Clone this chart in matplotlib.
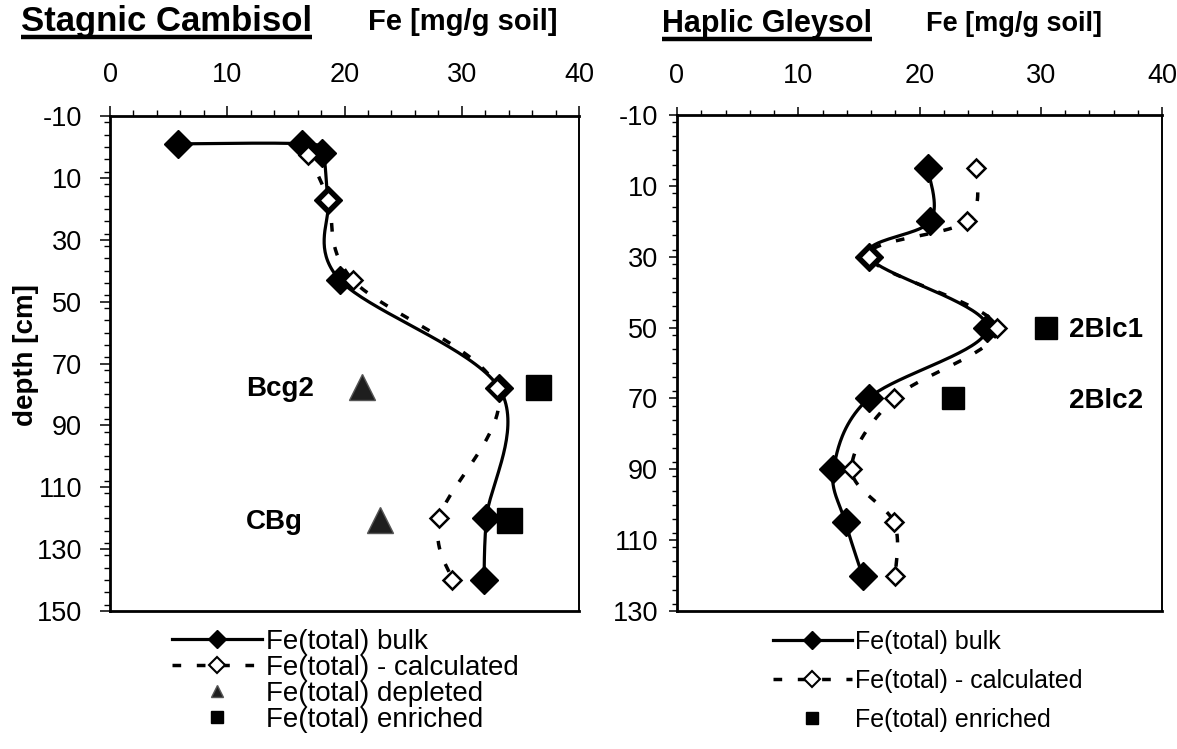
import numpy as np
import matplotlib
matplotlib.use('Agg')
import matplotlib.pyplot as plt
from matplotlib.lines import Line2D
from matplotlib.ticker import MultipleLocator

plt.rcParams['font.family'] = ['Liberation Sans', 'DejaVu Sans']
plt.rcParams['axes.unicode_minus'] = False

# ---------------- data ----------------
# Stagnic Cambisol
sc_bulk_depth = [-1, -1, 2, 17, 43, 78, 120, 140]
sc_bulk_fe = [5.8, 16.4, 18.1, 18.6, 19.6, 33.2, 32.1, 31.9]
sc_calc_depth = [2.5, 17, 43, 78, 120, 140]
sc_calc_fe = [16.9, 18.6, 20.7, 33.0, 28.1, 29.2]
sc_horizons = ['Bcg2', 'CBg']
sc_hor_depth = [77.5, 120.5]
sc_depleted_fe = [21.5, 23.0]
sc_enriched_fe = [36.5, 34.0]

# Haplic Gleysol
hg_depth = [5, 20, 30, 50, 70, 90, 105, 120]
hg_bulk_fe = [20.7, 20.9, 15.8, 25.6, 15.8, 12.9, 13.9, 15.3]
hg_calc_fe = [24.7, 23.9, 15.8, 26.4, 17.9, 14.4, 17.9, 18.0]
hg_horizons = ['2Blc1', '2Blc2']
hg_hor_depth = [50, 70]
hg_enriched_fe = [30.4, 22.8]

x_ticks = [0, 10, 20, 30, 40]
sc_y_ticks = list(range(-10, 151, 20))
hg_y_ticks = list(range(-10, 131, 20))

lbl_bulk = 'Fe(total) bulk'
lbl_calc = 'Fe(total) - calculated'
lbl_depl = 'Fe(total) depleted'
lbl_enr = 'Fe(total) enriched'

# ---------------- figure ----------------
W, H = 1177, 749
fig = plt.figure(figsize=(W / 100, H / 100), dpi=100)


def fx(px):
    return px / W


def fy(py):
    return 1 - py / H


def smooth(ax, x, y, n=40):
    """Excel-like smoothed line (Bezier through points) computed in display space."""
    pts = ax.transData.transform(np.column_stack([x, y]))
    P = np.vstack([pts[0], pts, pts[-1]])
    t = np.linspace(0, 1, n)[:, None]
    segs = []
    for i in range(1, len(P) - 2):
        p0, p1, p2, p3 = P[i - 1], P[i], P[i + 1], P[i + 2]
        c1 = p1 + (p2 - p0) / 6.0
        c2 = p2 - (p3 - p1) / 6.0
        segs.append((1 - t) ** 3 * p1 + 3 * (1 - t) ** 2 * t * c1
                    + 3 * (1 - t) * t ** 2 * c2 + t ** 3 * p2)
    c = ax.transData.inverted().transform(np.vstack(segs))
    return c[:, 0], c[:, 1]


def setup(ax, yticks, ylim, maj, mnr, xpad, ypad):
    ax.set_xlim(0, 40)
    ax.set_ylim(*ylim)
    ax.xaxis.tick_top()
    ax.set_xticks(x_ticks)
    ax.set_yticks(yticks)
    ax.xaxis.set_minor_locator(MultipleLocator(2))
    ax.yaxis.set_minor_locator(MultipleLocator(4))
    ax.tick_params(axis='both', which='major', direction='out', length=maj,
                   width=1.1, labelsize=19.5, color='black')
    ax.tick_params(axis='both', which='minor', direction='out', length=mnr,
                   width=1.0, color='black')
    ax.tick_params(axis='x', which='major', pad=xpad)
    ax.tick_params(axis='y', which='major', pad=ypad)
    for s in ['left', 'top', 'bottom']:
        ax.spines[s].set_linewidth(2.0)
    ax.spines['right'].set_linewidth(1.4)


DASH = (0, (2.5, 4.5))

# ---------- left panel ----------
ax1 = fig.add_axes([fx(110), fy(611), (579 - 110) / W, (611 - 116) / H])
setup(ax1, sc_y_ticks, (150, -10), 7.5, 4.0, 13, 12.5)

xs, ys = smooth(ax1, sc_calc_fe, sc_calc_depth)
ax1.plot(xs, ys, color='black', lw=2.5, linestyle=DASH, zorder=2)
xs, ys = smooth(ax1, sc_bulk_fe, sc_bulk_depth)
ax1.plot(xs, ys, color='black', lw=2.3, zorder=3)
ax1.plot(sc_bulk_fe, sc_bulk_depth, 'D', color='black', ms=14.5, mew=1, zorder=4)
ax1.plot(sc_calc_fe, sc_calc_depth, 'D', mfc='white', mec='black', ms=9.5,
         mew=1.8, zorder=5)
ax1.plot(sc_depleted_fe, sc_hor_depth, '^', mfc='#1e1e1e', mec='#555555',
         ms=19, mew=1, zorder=6)
ax1.plot(sc_enriched_fe, sc_hor_depth, 's', color='black', ms=18, zorder=6)
for name, d in zip(sc_horizons, sc_hor_depth):
    ax1.annotate(name, (11.6, d), xytext=(0, -7), textcoords='offset points',
                 fontsize=20, fontweight='bold', va='baseline', ha='left')

h1 = [Line2D([], [], color='black', lw=2.3, marker='D', ms=9.5),
      Line2D([], [], color='black', lw=2.5, linestyle=DASH, marker='D',
             mfc='white', mec='black', ms=8.5, mew=1.5),
      Line2D([], [], linestyle='none', marker='^', mfc='#1e1e1e',
             mec='#555555', ms=9),
      Line2D([], [], linestyle='none', marker='s', color='black', ms=9)]
fig.legend(h1, [lbl_bulk, lbl_calc, lbl_depl, lbl_enr], loc='upper left',
           bbox_to_anchor=(fx(172), fy(629)), frameon=False, fontsize=20,
           handlelength=3.25, handletextpad=0.12, labelspacing=0.0,
           borderpad=0, borderaxespad=0, numpoints=1)

# ---------- right panel ----------
ax2 = fig.add_axes([fx(677), fy(611), (1162 - 677) / W, (611 - 115) / H])
setup(ax2, hg_y_ticks, (130, -10), 5.5, 3.5, 13.5, 8.2)

xs, ys = smooth(ax2, hg_calc_fe, hg_depth)
ax2.plot(xs, ys, color='black', lw=2.5, linestyle=DASH, zorder=2)
xs, ys = smooth(ax2, hg_bulk_fe, hg_depth)
ax2.plot(xs, ys, color='black', lw=2.3, zorder=3)
ax2.plot(hg_bulk_fe, hg_depth, 'D', color='black', ms=14.5, mew=1, zorder=4)
ax2.plot(hg_calc_fe, hg_depth, 'D', mfc='white', mec='black', ms=9.5,
         mew=1.8, zorder=5)
ax2.plot(hg_enriched_fe, hg_hor_depth, 's', color='black', ms=16, zorder=6)
for name, d in zip(hg_horizons, hg_hor_depth):
    ax2.annotate(name, (32.3, d), xytext=(0, -7), textcoords='offset points',
                 fontsize=20, fontweight='bold', va='baseline', ha='left')

h2 = [Line2D([], [], color='black', lw=2.3, marker='D', ms=9.5),
      Line2D([], [], color='black', lw=2.5, linestyle=DASH, marker='D',
             mfc='white', mec='black', ms=8.5, mew=1.5),
      Line2D([], [], linestyle='none', marker='s', color='black', ms=9)]
fig.legend(h2, [lbl_bulk, lbl_calc, lbl_enr], loc='upper left',
           bbox_to_anchor=(fx(773), fy(630)), frameon=False, fontsize=18,
           handlelength=3.15, handletextpad=0.12, labelspacing=0.6,
           borderpad=0, borderaxespad=0, numpoints=1)

# ---------- titles ----------
t1 = fig.text(fx(21), fy(31), 'Stagnic Cambisol', fontsize=25,
              fontweight='bold', va='baseline', ha='left')
fig.text(fx(368), fy(30), 'Fe [mg/g soil]', fontsize=21, fontweight='bold',
         va='baseline', ha='left')
t2 = fig.text(fx(662), fy(32), 'Haplic Gleysol', fontsize=22,
              fontweight='bold', va='baseline', ha='left')
fig.text(fx(926), fy(31), 'Fe [mg/g soil]', fontsize=19.5, fontweight='bold',
         va='baseline', ha='left')
fig.text(fx(26), fy(355), 'depth [cm]', rotation=90, fontsize=20,
         fontweight='bold', ha='center', va='center')

# underline titles
fig.canvas.draw()
r = fig.canvas.get_renderer()
for t, uy in [(t1, 37), (t2, 39)]:
    bb = t.get_window_extent(renderer=r)
    fig.add_artist(Line2D([bb.x0 / W, bb.x1 / W], [fy(uy), fy(uy)],
                          transform=fig.transFigure, color='black', lw=3.2,
                          solid_capstyle='butt'))

fig.savefig('out.png', dpi=100)
